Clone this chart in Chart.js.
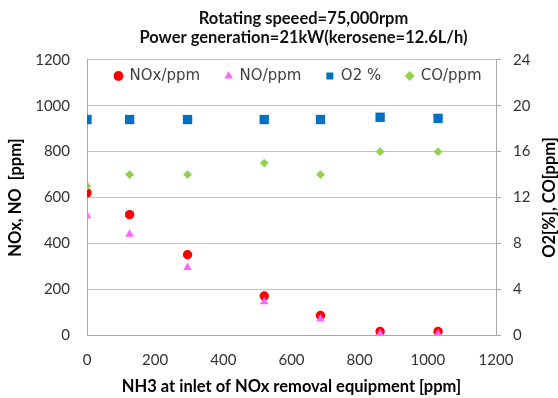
<!DOCTYPE html>
<html>
<head>
<meta charset="utf-8">
<script src="https://cdn.jsdelivr.net/npm/chart.js@4/dist/chart.umd.min.js"></script>
<style>
  html, body { margin: 0; padding: 0; background: #fff; }
  #wrap { width: 558px; height: 398px; }
</style>
</head>
<body>
<div id="wrap"><canvas id="chart" width="558" height="398"></canvas></div>
<script>
// NH3 at inlet (ppm) for each measurement
const nh3 = [0, 125, 295, 520, 685, 860, 1030];
const noxPpm = [620, 525, 350, 170, 85, 15, 15];
const noPpm = [520, 440, 295, 145, 70, 5, 5];
const o2Pct = [18.8, 18.8, 18.8, 18.8, 18.8, 19.0, 18.9];
const coPpm = [13, 14, 14, 15, 14, 16, 16];

const titleLines = ['Rotating speeed=75,000rpm', 'Power generation=21kW(kerosene=12.6L/h)'];
const xTitle = 'NH3 at inlet of NOx removal equipment [ppm]';
const leftTitle = 'NOx, NO  [ppm]';
const rightTitle = 'O2[%], CO[ppm]';
const leftTicks = { min: 0, max: 1200, step: 200 };
const rightTicks = { min: 0, max: 24, step: 4 };
const xTicks = { min: 0, max: 1200, step: 200 };

const GRID = '#c4c4c4';
const AXIS = '#a8a8a8';
const TICK_TXT = '#333';
const calibri = 'Lato, "Open Sans", sans-serif';
const tickFont = { family: calibri, size: 15 };
const axisTitleFont = { family: calibri, size: 16.5, weight: 'bold' };
const plain = { useGrouping: false };

const pts = (ys) => nh3.map((x, i) => ({ x: x, y: ys[i] }));

// legend sits inside the plot area and the title is a bit right of centre
const placeBoxes = {
  id: 'placeBoxes',
  beforeDraw(chart) {
    const lg = chart.legend;
    if (lg) {
      lg.left = 90; lg.right = 556;
      lg.top = 43.5; lg.bottom = lg.top + 60;
    }
    const tb = chart.titleBlock;
    if (tb && !tb._shifted) {
      tb.left += 24.5; tb.right += 24.5; tb._shifted = true;
    }
  },
  afterDraw(chart) {
    // right axis title reads bottom-to-top like the left one
    const ctx = chart.ctx;
    const a = chart.chartArea;
    ctx.save();
    ctx.translate(550, (a.top + a.bottom) / 2);
    ctx.rotate(-Math.PI / 2);
    ctx.font = 'bold 16.5px ' + calibri;
    ctx.fillStyle = '#000';
    ctx.textAlign = 'center';
    ctx.textBaseline = 'middle';
    ctx.fillText(rightTitle, 0, 0);
    ctx.restore();
  }
};

new Chart(document.getElementById('chart'), {
  type: 'scatter',
  data: {
    datasets: [
      { label: 'NOx/ppm', data: pts(noxPpm), yAxisID: 'y', order: 3,
        pointStyle: 'circle', pointRadius: 4.7, backgroundColor: '#ff0000', borderColor: '#ff0000', pointBorderWidth: 0 },
      { label: 'NO/ppm', data: pts(noPpm), yAxisID: 'y', order: 2,
        pointStyle: 'triangle', pointRadius: 5, backgroundColor: '#ff66ff', borderColor: '#ff66ff', pointBorderWidth: 0 },
      { label: 'O2 %', data: pts(o2Pct), yAxisID: 'y2', order: 1,
        pointStyle: 'rect', pointRadius: 6.6, backgroundColor: '#0070c0', borderColor: '#0070c0', pointBorderWidth: 0 },
      { label: 'CO/ppm', data: pts(coPpm), yAxisID: 'y2', order: 0,
        pointStyle: 'rectRot', pointRadius: 4.4, backgroundColor: '#92d050', borderColor: '#92d050', pointBorderWidth: 0 }
    ]
  },
  options: {
    responsive: false,
    animation: false,
    layout: { padding: 0 },
    plugins: {
      title: {
        display: true,
        text: titleLines,
        color: '#111',
        font: { family: calibri, size: 16.5, weight: 'bold', lineHeight: 1.18 },
        padding: { top: 8.5, bottom: 11.5 }
      },
      legend: {
        display: true,
        position: 'top',
        align: 'start',
        maxHeight: 1,
        labels: {
          usePointStyle: true,
          boxWidth: 7,
          boxHeight: 7,
          padding: 25,
          color: '#404040',
          font: { family: '"DejaVu Sans", sans-serif', size: 15 },
          sort: (a, b) => a.datasetIndex - b.datasetIndex
        }
      },
      tooltip: { enabled: false }
    },
    scales: {
      x: {
        type: 'linear',
        position: 'bottom',
        min: xTicks.min, max: xTicks.max,
        ticks: { stepSize: xTicks.step, color: TICK_TXT, padding: 16, font: tickFont, format: plain },
        grid: { display: false, drawTicks: false },
        border: { display: true, color: AXIS, width: 1 },
        title: { display: true, text: xTitle, color: '#000', font: axisTitleFont, padding: { top: 0, bottom: 1 } },
        afterFit: (s) => { s.height = 63; }
      },
      y: {
        type: 'linear',
        position: 'left',
        min: leftTicks.min, max: leftTicks.max,
        ticks: { stepSize: leftTicks.step, color: TICK_TXT, padding: 17, font: tickFont, format: plain },
        grid: { color: GRID, drawTicks: false },
        border: { display: true, color: AXIS, width: 1 },
        title: { display: true, text: leftTitle, color: '#000', font: axisTitleFont, padding: { top: 6, bottom: 0 } },
        afterFit: (s) => { s.width = 87; }
      },
      y2: {
        type: 'linear',
        position: 'right',
        min: rightTicks.min, max: rightTicks.max,
        ticks: { stepSize: rightTicks.step, color: TICK_TXT, padding: 12, font: tickFont, format: plain },
        grid: { drawOnChartArea: false, drawTicks: true, tickLength: 5, color: AXIS },
        border: { display: true, color: AXIS, width: 1 },
        afterFit: (s) => { s.width = 62; }
      }
    }
  },
  plugins: [placeBoxes]
});
</script>
</body>
</html>
